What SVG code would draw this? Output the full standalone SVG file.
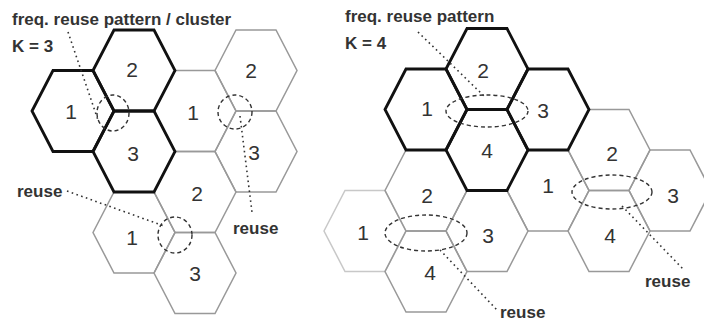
<svg xmlns="http://www.w3.org/2000/svg" xmlns:xlink="http://www.w3.org/1999/xlink" width="704" height="324" viewBox="0 0 704 324">
<style>
.hx{fill:none;stroke-linejoin:miter}
.light{stroke:#c8c8c8;stroke-width:1.5}
.gray{stroke:#999;stroke-width:1.5}
.bold{stroke:#111;stroke-width:2.8}
.num{font-family:"Liberation Sans",Arial,sans-serif;font-size:21px;fill:#333;text-anchor:middle}
.lbl{font-family:"Liberation Sans",Arial,sans-serif;font-size:17px;font-weight:bold;fill:#333}
.dot{fill:none;stroke:#333;stroke-width:1.6;stroke-dasharray:1.6 3.4}
.dash{fill:none;stroke:#333;stroke-width:1.4;stroke-dasharray:4 3}
</style>
<defs>
<polygon id="hex" points="-41,0 -20,-40.5 20,-40.5 41,0 20,40.5 -20,40.5"/>
</defs>
<rect width="704" height="324" fill="#fff"/>

<!-- Left diagram K=3 -->
<g id="L-1b"><use xlink:href="#hex" href="#hex" class="hx gray" x="195" y="111"/><text class="num" x="193" y="119.5">1</text></g>
<g id="L-2g"><use xlink:href="#hex" href="#hex" class="hx gray" x="256" y="70.5"/><text class="num" x="251" y="78">2</text></g>
<g id="L-3g"><use xlink:href="#hex" href="#hex" class="hx gray" x="256" y="151.5"/><text class="num" x="254" y="159.5">3</text></g>
<g id="L-2c"><use xlink:href="#hex" href="#hex" class="hx gray" x="195" y="192"/><text class="num" x="197" y="200.5">2</text></g>
<g id="L-1c"><use xlink:href="#hex" href="#hex" class="hx gray" x="134" y="232.5"/><text class="num" x="132" y="244.5">1</text></g>
<g id="L-3c"><use xlink:href="#hex" href="#hex" class="hx gray" x="195" y="273"/><text class="num" x="195" y="280.5">3</text></g>
<g id="L-1"><use xlink:href="#hex" href="#hex" class="hx bold" x="73" y="111"/><text class="num" x="71" y="118.5">1</text></g>
<g id="L-2"><use xlink:href="#hex" href="#hex" class="hx bold" x="134" y="70.5"/><text class="num" x="132" y="77">2</text></g>
<g id="L-3"><use xlink:href="#hex" href="#hex" class="hx bold" x="134" y="151.5"/><text class="num" x="133" y="160.5">3</text></g>

<!-- Right diagram K=4 -->
<g id="R-1l"><use xlink:href="#hex" href="#hex" class="hx light" x="365" y="231"/><text class="num" x="363" y="239.5">1</text></g>
<g id="R-2b"><use xlink:href="#hex" href="#hex" class="hx gray" x="426" y="190.5"/><text class="num" x="427" y="202.5">2</text></g>
<g id="R-4b"><use xlink:href="#hex" href="#hex" class="hx gray" x="426" y="271.5"/><text class="num" x="430" y="279.5">4</text></g>
<g id="R-3b"><use xlink:href="#hex" href="#hex" class="hx gray" x="487" y="231"/><text class="num" x="488" y="242.5">3</text></g>
<g id="R-1b"><use xlink:href="#hex" href="#hex" class="hx gray" x="548" y="190.5"/><text class="num" x="548" y="192.5">1</text></g>
<g id="R-2c"><use xlink:href="#hex" href="#hex" class="hx gray" x="609" y="150"/><text class="num" x="612" y="160.5">2</text></g>
<g id="R-4c"><use xlink:href="#hex" href="#hex" class="hx gray" x="609" y="231"/><text class="num" x="610" y="242.5">4</text></g>
<g id="R-3c"><use xlink:href="#hex" href="#hex" class="hx gray" x="670" y="190.5"/><text class="num" x="673" y="202.5">3</text></g>
<g id="R-2"><use xlink:href="#hex" href="#hex" class="hx bold" x="487" y="69"/><text class="num" x="483" y="77.5">2</text></g>
<g id="R-1"><use xlink:href="#hex" href="#hex" class="hx bold" x="426" y="109.5"/><text class="num" x="427" y="115.5">1</text></g>
<g id="R-3"><use xlink:href="#hex" href="#hex" class="hx bold" x="548" y="109.5"/><text class="num" x="543" y="117.5">3</text></g>
<g id="R-4"><use xlink:href="#hex" href="#hex" class="hx bold" x="487" y="150"/><text class="num" x="487" y="157.5">4</text></g>

<!-- connectors: leaders and reuse ellipses -->
<g id="connectors">
<line class="dot" x1="68" y1="32" x2="98" y2="120"/>
<line class="dot" x1="240" y1="116" x2="252" y2="212"/>
<line class="dot" x1="67" y1="191" x2="164" y2="226"/>
<line class="dot" x1="418" y1="32" x2="485" y2="97"/>
<line class="dot" x1="622" y1="206" x2="684" y2="270"/>
<line class="dot" x1="440" y1="250" x2="497" y2="310"/>
<ellipse class="dash" cx="113" cy="113" rx="16" ry="18"/>
<ellipse class="dash" cx="235" cy="112" rx="17" ry="17"/>
<ellipse class="dash" cx="175" cy="235" rx="17" ry="18"/>
<ellipse class="dash" cx="487" cy="111" rx="41" ry="16"/>
<ellipse class="dash" cx="612" cy="192" rx="40" ry="17"/>
<ellipse class="dash" cx="426" cy="233" rx="41" ry="18"/>
</g>

<g id="labels">
<text class="lbl" x="12" y="25">freq. reuse pattern / cluster</text>
<text class="lbl" x="12" y="52">K = 3</text>
<text class="lbl" x="345" y="22">freq. reuse pattern</text>
<text class="lbl" x="345" y="49">K = 4</text>
<text class="lbl" x="17" y="197">reuse</text>
<text class="lbl" x="233" y="234">reuse</text>
<text class="lbl" x="500" y="318">reuse</text>
<text class="lbl" x="645" y="287">reuse</text>
</g>
</svg>
